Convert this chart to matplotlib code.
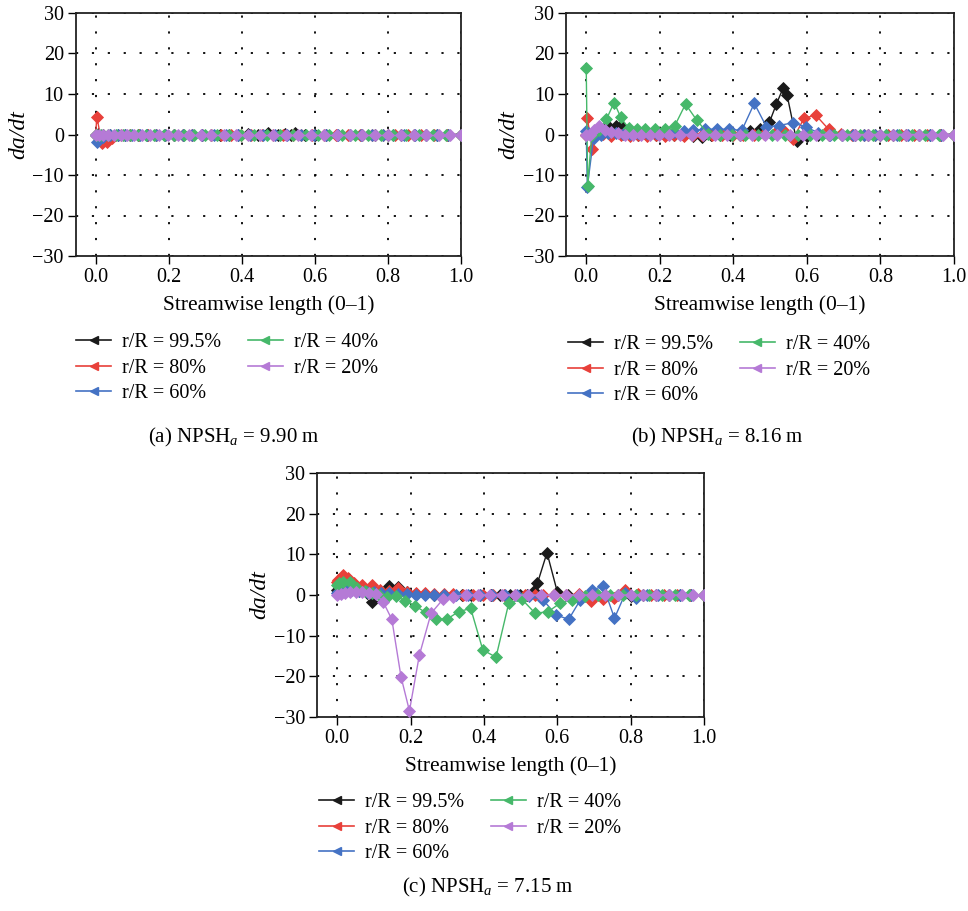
import matplotlib
matplotlib.use('Agg')
import matplotlib.pyplot as plt
from matplotlib.lines import Line2D

plt.rcParams['font.family'] = ['Liberation Serif', 'DejaVu Serif']
plt.rcParams['mathtext.fontset'] = 'custom'
plt.rcParams['mathtext.rm'] = 'Liberation Serif'
plt.rcParams['mathtext.it'] = 'Liberation Serif:italic'

# ---------------- data ----------------
labels = ['r/R = 99.5%', 'r/R = 80%', 'r/R = 60%', 'r/R = 40%', 'r/R = 20%']
colors = ['#1a1a1a', '#e8403a', '#4472c4', '#46b86a', '#b57ad6']
captions = [r'(a) NPSH$_{a}$ = 9.90 m', r'(b) NPSH$_{a}$ = 8.16 m', r'(c) NPSH$_{a}$ = 7.15 m']
x_ticks = [0.0, 0.2, 0.4, 0.6, 0.8, 1.0]
y_ticks = [-30, -20, -10, 0, 10, 20, 30]

# streamwise positions per radius
x_995 = [0.0, 0.005, 0.02, 0.04, 0.06, 0.08, 0.095, 0.115, 0.14, 0.165, 0.19, 0.215, 0.24, 0.265,
         0.29, 0.315, 0.34, 0.365, 0.39, 0.418, 0.445, 0.472, 0.498, 0.517, 0.536, 0.546, 0.572,
         0.6, 0.63, 0.66, 0.695, 0.73, 0.765, 0.8, 0.835, 0.87, 0.905, 0.935, 0.965, 1.0]
x_80 = [0.0, 0.003, 0.017, 0.03, 0.045, 0.068, 0.095, 0.118, 0.142, 0.165, 0.19, 0.215, 0.24, 0.265,
        0.29, 0.315, 0.342, 0.37, 0.398, 0.426, 0.455, 0.484, 0.512, 0.54, 0.562, 0.592, 0.624,
        0.659, 0.692, 0.724, 0.756, 0.786, 0.82, 0.855, 0.89, 0.927, 0.963, 1.0]
x_60 = [0.0, 0.003, 0.02, 0.04, 0.06, 0.08, 0.1, 0.12, 0.14, 0.165, 0.19, 0.215, 0.24, 0.265,
        0.291, 0.323, 0.356, 0.389, 0.423, 0.457, 0.49, 0.524, 0.561, 0.597, 0.631, 0.663,
        0.695, 0.725, 0.756, 0.786, 0.815, 0.845, 0.875, 0.905, 0.935, 0.965, 1.0]
x_40 = [0.0, 0.004, 0.015, 0.035, 0.055, 0.076, 0.094, 0.115, 0.137, 0.16, 0.186, 0.213, 0.241,
        0.27, 0.3, 0.331, 0.364, 0.397, 0.433, 0.468, 0.504, 0.54, 0.575, 0.608, 0.64, 0.675,
        0.71, 0.745, 0.78, 0.815, 0.85, 0.886, 0.922, 0.96, 1.0]
x_20 = [0.0, 0.01, 0.02, 0.035, 0.05, 0.068, 0.087, 0.106, 0.126, 0.149, 0.174, 0.197, 0.224,
        0.256, 0.288, 0.317, 0.35, 0.383, 0.417, 0.45, 0.485, 0.52, 0.555, 0.59, 0.625, 0.66,
        0.695, 0.73, 0.765, 0.8, 0.835, 0.87, 0.905, 0.94, 0.97, 1.0]

# (a) NPSHa = 9.90 m
a_995 = [0.0, 0.1, 0.0, 0.0, 0.0, 0.0, 0.0, 0.0, 0.0, 0.0, 0.0, 0.0, 0.0, 0.0, 0.0, 0.0, 0.0,
         0.0, 0.0, 0.2, 0.0, 0.3, 0.0, 0.2, 0.0, 0.3, 0.0, 0.0, 0.0, 0.0, 0.0, 0.0, 0.0, 0.0,
         0.0, 0.0, 0.0, 0.0, 0.0, 0.0]
a_80 = [0.0, 4.4, -2.2, -1.8, -0.8, -0.2, 0.0, 0.0, 0.0, 0.0, 0.0, 0.0, 0.0, 0.0, 0.0, 0.0, 0.0,
        0.0, 0.0, 0.0, 0.0, 0.0, 0.0, 0.0, 0.0, 0.0, 0.0, 0.0, 0.0, 0.0, 0.0, 0.0, 0.0, 0.0, 0.0,
        0.0, 0.0, 0.0]
a_60 = [0.0, -1.8, -0.5, -0.2, 0.0, 0.0, 0.0, 0.0, 0.0, 0.0, 0.0, 0.0, 0.0, 0.0, 0.0, 0.0, 0.0,
        0.0, 0.0, 0.0, 0.0, 0.0, 0.0, 0.0, 0.0, 0.0, 0.0, 0.0, 0.0, 0.0, 0.0, 0.0, 0.0, 0.0, 0.0,
        0.0, 0.0]
a_40 = [0.0, 0.0, 0.0, 0.0, 0.0, 0.0, 0.0, 0.0, 0.0, 0.0, 0.0, 0.0, 0.0, 0.0, 0.0, 0.0, 0.0, 0.0,
        0.0, 0.0, 0.0, 0.0, 0.0, 0.0, 0.0, 0.0, 0.0, 0.0, 0.0, 0.0, 0.0, 0.0, 0.0, 0.0, 0.0]
a_20 = [0.0, 0.0, 0.0, 0.0, 0.0, 0.0, 0.0, 0.0, 0.0, 0.0, 0.0, 0.0, 0.0, 0.0, 0.0, 0.0, 0.0, 0.0,
        0.0, 0.0, 0.0, 0.0, 0.0, 0.0, 0.0, 0.0, 0.0, 0.0, 0.0, 0.0, 0.0, 0.0, 0.0, 0.0, 0.0, 0.0]

# (b) NPSHa = 8.16 m
b_995 = [0.0, 0.3, 0.2, 0.5, 2.0, 2.2, 2.0, 0.5, 0.0, 0.0, 0.0, 0.0, 0.0, 0.0, -0.3, -0.6, -0.2,
         0.0, 0.0, 0.0, 0.9, 1.4, 3.0, 7.5, 11.6, 9.8, -1.6, -0.3, 0.0, 0.0, 0.0, 0.0, 0.0, 0.0,
         0.0, 0.0, 0.0, 0.0, 0.0, 0.0]
b_80 = [0.0, 4.0, -3.7, 0.5, 0.2, -0.3, -0.2, -0.3, -0.2, -0.3, -0.2, -0.3, -0.2, -0.3, -0.2, 0.0,
        0.0, 0.0, 0.0, 0.0, 0.0, 0.2, 0.3, 0.5, -1.2, 4.0, 4.8, 1.3, 0.2, 0.0, 0.0, 0.0, 0.0, 0.0,
        0.0, 0.0, 0.0, 0.0]
b_60 = [0.8, -13.0, -0.8, 0.0, 0.3, 0.3, 0.2, 0.2, 0.3, 0.3, 0.4, 0.5, 0.5, 0.8, 1.0, 1.3, 1.3,
        1.3, 1.0, 7.7, 1.9, 2.2, 2.9, 1.9, 0.4, 0.0, 0.0, 0.0, 0.0, 0.0, 0.0, 0.0, 0.0, 0.0, 0.0,
        0.0, 0.0]
b_40 = [16.5, -12.7, 0.0, 1.1, 3.8, 7.9, 4.2, 1.6, 1.4, 1.4, 1.4, 1.4, 2.2, 7.5, 3.6, 0.2, 0.0,
        0.0, 0.0, 0.0, 0.0, 0.0, 0.0, 0.0, 0.0, 0.0, 0.0, 0.0, 0.0, 0.0, 0.0, 0.0, 0.0, 0.0, 0.0]
b_20 = [0.0, 0.0, 1.0, 2.1, 1.2, 0.5, 0.3, 0.0, 0.0, 0.0, 0.0, 0.0, 0.0, 0.0, 0.0, 0.0, 0.0, 0.0,
        0.0, 0.0, 0.0, 0.0, 0.0, 0.0, 0.0, 0.0, 0.0, 0.0, 0.0, 0.0, 0.0, 0.0, 0.0, 0.0, 0.0, 0.0]

# (c) NPSHa = 7.15 m
c_995 = [1.2, 1.0, 1.5, 1.5, 1.0, 0.5, -1.6, 0.8, 2.2, 1.9, 0.8, 0.3, 0.2, 0.0, 0.0, 0.0, 0.0,
         0.0, 0.0, 0.0, 0.0, 0.0, 0.0, 0.0, 1.0, 2.9, 10.4, 0.8, 0.0, 0.0, 0.0, 0.0, 0.0, -0.3,
         0.0, 0.0, 0.0, 0.0, 0.0, 0.0]
c_80 = [3.3, 3.8, 4.9, 4.2, 3.0, 2.5, 2.5, 1.2, 1.0, 1.6, 0.8, 0.5, 0.5, 0.3, 0.2, 0.2, 0.0, 0.0,
        0.0, 0.0, 0.0, 0.0, 0.0, 0.0, 0.0, 0.0, 0.0, 0.2, -1.5, -1.0, -0.8, 1.2, 0.2, 0.0, 0.0,
        0.0, 0.0, 0.0]
c_60 = [0.5, 0.8, 1.5, 1.2, 1.0, 0.8, 0.8, 0.6, 0.5, 0.3, 0.2, 0.0, 0.0, 0.0, 0.0, 0.0, 0.0,
        0.0, 0.0, 0.0, 0.0, -0.3, -1.2, -4.9, -6.0, -1.2, 1.2, 2.2, -5.7, 0.5, -0.8, 0.0, 0.0,
        0.0, 0.0, 0.0, 0.0]
c_40 = [2.5, 3.0, 3.3, 3.3, 1.6, 1.0, 0.5, 0.0, -0.4, -0.2, -1.5, -2.7, -4.3, -5.9, -5.9, -4.1,
        -3.3, -13.5, -15.3, -1.9, -1.1, -4.5, -4.1, -2.0, -1.2, -0.3, 0.0, 0.0, 0.0, 0.0, 0.0,
        0.0, 0.0, 0.0, 0.0]
c_20 = [0.0, 0.3, 0.5, 0.8, 0.8, 0.8, 0.6, 0.2, -1.8, -6.0, -20.1, -28.5, -14.8, -4.5, -1.1,
        -0.4, 0.0, 0.0, 0.0, 0.0, 0.0, 0.0, 0.0, 0.0, 0.0, 0.0, 0.0, 0.0, 0.0, 0.0, 0.0, 0.0,
        0.0, 0.0, 0.0, 0.0]

# ---------------- figure ----------------
W, H = 968, 911
fig = plt.figure(figsize=(W / 100, H / 100), dpi=100)


def rect(left, right, top, bottom):
    return [left / W, 1 - bottom / H, (right - left) / W, (bottom - top) / H]


panels = [
    dict(rect=rect(75.6, 461, 13, 256), ylab=(19, 134.5), leg=(76, 368), cap=(234, 437),
         ys=[a_995, a_80, a_60, a_40, a_20]),
    dict(rect=rect(566, 954, 13, 256), ylab=(509, 134.5), leg=(568, 370), cap=(717, 437),
         ys=[b_995, b_80, b_60, b_40, b_20]),
    dict(rect=rect(317, 704, 473, 717), ylab=(260, 595), leg=(319, 828), cap=(488, 887),
         ys=[c_995, c_80, c_60, c_40, c_20]),
]
xs = [x_995, x_80, x_60, x_40, x_20]

FS_TICK = 14.5
FS_LEG = 14.5
FS_XLAB = 15.5
FS_CAP = 15
FS_YLAB = 17
for k, p in enumerate(panels):
    ax = fig.add_axes(p['rect'])
    for x, y, c in zip(xs, p['ys'], colors):
        ax.plot(x, y, color=c, lw=1.0, marker='D', ms=5.9, mec=c, mew=0.6, zorder=3)
    ax.set_xlim(-0.055, 1.0)
    ax.set_ylim(-30, 30)
    ax.set_xticks(x_ticks)
    ax.set_xticklabels([f'{t:.1f}' for t in x_ticks])
    ax.set_yticks(y_ticks)
    ax.grid(True, linestyle=(0, (1.2, 7.6)), color='black', linewidth=1.3, zorder=0)
    ax.set_axisbelow(True)
    ax.tick_params(direction='out', length=6, width=1.0, top=False, right=False,
                   labelsize=FS_TICK, pad=2.5)
    for s in ax.spines.values():
        s.set_linewidth(1.3)
        s.set_color('#222222')
    ax.set_xlabel('Streamwise length (0–1)', fontsize=FS_XLAB, labelpad=6)
    fig.text(p['ylab'][0] / W, 1 - p['ylab'][1] / H, 'da/dt', rotation=90, ha='center',
             va='center', fontsize=FS_YLAB, fontstyle='italic')
    handles = [Line2D([0], [0], color=c, lw=1.2, marker='<', ms=6, mec=c) for c in colors]
    ax.legend(handles, labels, loc='center left',
              bbox_to_anchor=(p['leg'][0] / W, 1 - p['leg'][1] / H),
              bbox_transform=fig.transFigure, frameon=False, ncol=2, fontsize=FS_LEG,
              handlelength=1.75, handletextpad=0.55, columnspacing=1.3, labelspacing=0.3,
              borderpad=0, borderaxespad=0)
    fig.text(p['cap'][0] / W, 1 - p['cap'][1] / H, captions[k], ha='center', va='center',
             fontsize=FS_CAP)

fig.savefig('out.png', dpi=100)
